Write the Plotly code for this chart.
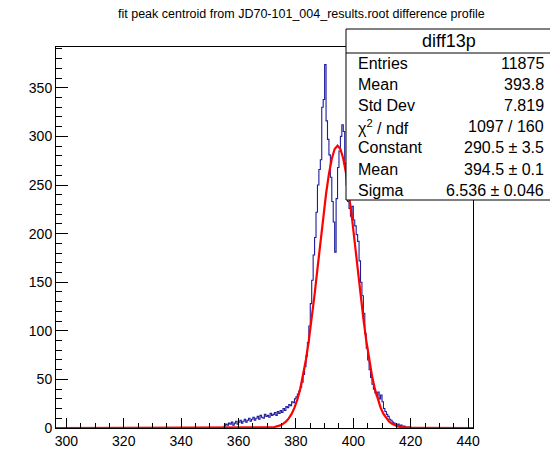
import numpy as np
import plotly.graph_objects as go

# histogram diff13p: bins of 0.5 starting at 355.0 (all other bins empty)
bin_start = 355.0
bin_width = 0.5
counts = [
    2, 4, 3, 5, 4, 6, 3, 5, 7, 4,
    6, 8, 5, 7, 9, 6, 8, 10, 7, 9,
    11, 8, 10, 12, 9, 13, 11, 10, 14, 12,
    13, 11, 15, 13, 14, 16, 13, 17, 15, 18,
    16, 20, 18, 22, 21, 24, 23, 27, 26, 30,
    32, 35, 38, 42, 47, 55, 63, 74, 88, 105,
    128, 152, 178, 196, 222, 250, 266, 276, 330, 338,
    374, 316, 297, 281, 258, 233, 212, 181, 236, 268,
    285, 300, 312, 305, 272, 250, 233, 226, 218, 228,
    214, 208, 199, 192, 172, 150, 136, 118, 97, 82,
    70, 60, 52, 45, 40, 36, 33, 37, 30, 34,
    27, 20, 17, 14, 12, 9, 8, 6, 5, 4,
    3, 4, 2, 3, 1, 2, 1, 0, 1, 1,
]

# gaussian fit curve (x, y)
fit_x = [296.4, 364.5, 365.5, 366.5, 367.5, 368.5, 369.5, 370.5, 371.5, 372.5,
         373.5, 374.5, 375.5, 376.5, 377.5, 378.5, 379.5, 380.5, 381.5, 382.5,
         383.5, 384.5, 385.5, 386.5, 387.5, 388.5, 389.5, 390.5, 391.5, 392.5,
         393.5, 394.5, 395.5, 396.5, 397.5, 398.5, 399.5, 400.5, 401.5, 402.5,
         403.5, 404.5, 405.5, 406.5, 407.5, 408.5, 409.5, 410.5, 411.5, 412.5,
         413.5, 414.5, 415.5, 416.5, 417.5, 418.5, 419.5, 420.5, 421.5, 422.5,
         423.5, 424.5, 441.7]
fit_half = [0.0, 0.01, 0.03, 0.05, 0.1, 0.19, 0.34, 0.6, 1.0, 1.66, 2.7,
            4.25, 6.5, 9.9, 14.5, 20.9, 29.3, 40.2, 53.9, 70.5, 90.1,
            112.6, 137.3, 163.7, 190.6, 217, 241, 261.5, 277, 287]
fit_y = [0.0] + fit_half + [290.5] + fit_half[::-1] + [0.0]

stats_title = "diff13p"
stats_labels = ["Entries", "Mean", "Std Dev", "χ<sup>2</sup> / ndf",
                "Constant", "Mean", "Sigma"]
stats_values = ["11875", "393.8", "7.819", "1097 / 160",
                "290.5 ± 3.5", "394.5 ± 0.1", "6.536 ± 0.046"]

title = "fit peak centroid from JD70-101_004_results.root difference profile"

# the page body adds 8px margin, so work in page pixels minus 8
OFF = 8
W, H = 548, 456
L, R, T, B = 56 - OFF, 473 - OFF, 47 - OFF, 428 - OFF
FONT = "Liberation Sans"


def px(x):
    return (x - OFF - L) / (R - L)


def py(y):
    return (B - (y - OFF)) / (B - T)


edges = bin_start + bin_width * np.arange(len(counts) + 1)
hx = [296.4] + list(edges) + [441.7]
hy = [0] + counts + [0, 0]

fig = go.Figure()
fig.add_trace(go.Scatter(
    x=hx, y=hy, mode="lines", line_shape="hv",
    line=dict(color="#1c1ca0", width=1.1), hoverinfo="skip"))
fig.add_trace(go.Scatter(
    x=fit_x, y=fit_y, mode="lines",
    line=dict(color="#ff0000", width=2.2), hoverinfo="skip"))

axis_common = dict(
    showgrid=False, zeroline=False, showline=True, linecolor="black",
    linewidth=1, mirror=True, ticks="inside", tickcolor="black",
    tickfont=dict(family=FONT, size=14, color="black"),
)
fig.update_xaxes(range=[296.4, 441.7], tick0=300, dtick=20, ticklen=10,
                 minor=dict(ticks="inside", dtick=5, ticklen=5,
                            tickcolor="black"),
                 **axis_common)
fig.update_yaxes(range=[0, 392], tick0=0, dtick=50, ticklen=12,
                 minor=dict(ticks="inside", dtick=10, ticklen=6,
                            tickcolor="black"),
                 **axis_common)

# stats box
bx0, bx1, by0, by1 = 346, 552, 29, 200
fig.add_shape(type="rect", xref="paper", yref="paper",
              x0=px(bx0), x1=px(bx1), y0=py(by1), y1=py(by0),
              fillcolor="white", line=dict(color="black", width=1),
              layer="above")
fig.add_shape(type="line", xref="paper", yref="paper",
              x0=px(bx0), x1=px(bx1), y0=py(53), y1=py(53),
              line=dict(color="black", width=1), layer="above")
fig.add_annotation(x=px((bx0 + bx1) / 2), y=py(41), xref="paper",
                   yref="paper", text=stats_title, showarrow=False,
                   xanchor="center", yanchor="middle",
                   font=dict(family=FONT, size=18, color="black"))
row_y = 63
for lab, val in zip(stats_labels, stats_values):
    fig.add_annotation(x=px(356), y=py(row_y), xref="paper", yref="paper",
                       text=lab, showarrow=False, xanchor="left",
                       yanchor="middle",
                       font=dict(family=FONT, size=16, color="black"))
    fig.add_annotation(x=px(546), y=py(row_y), xref="paper", yref="paper",
                       text=val, showarrow=False, xanchor="right",
                       yanchor="middle",
                       font=dict(family=FONT, size=16, color="black"))
    row_y += 21.2

fig.add_annotation(x=px(301), y=py(14), xref="paper", yref="paper",
                   text=title, showarrow=False, xanchor="center",
                   yanchor="middle",
                   font=dict(family=FONT, size=12.5, color="black"))

fig.update_layout(
    width=W, height=H, showlegend=False,
    margin=dict(l=L, r=W - R, t=T, b=H - B, pad=0),
    paper_bgcolor="white", plot_bgcolor="white",
    font=dict(family=FONT),
)

fig.write_html("out.html")
